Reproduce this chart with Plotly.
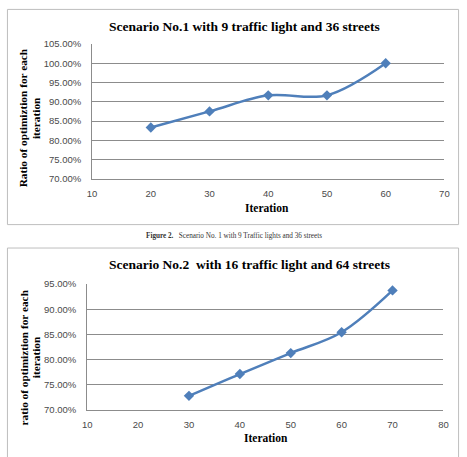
import plotly.graph_objects as go

# Scenario 1 data
iter1 = [20, 30, 40, 50, 60]
ratio1 = [0.8333, 0.875, 0.9167, 0.9167, 1.0]
# Scenario 2 data
iter2 = [30, 40, 50, 60, 70]
ratio2 = [0.7273, 0.7708, 0.8125, 0.8542, 0.9375]

title1 = "Scenario No.1 with 9 traffic light and 36 streets"
title2 = "Scenario No.2  with 16 traffic light and 64 streets"
ytitle1 = ["Ratio of optimiztion for each", "iteration"]
ytitle2 = ["ratio of optimiztion for each", "iteration"]
xtitle = "Iteration"
caption = "<b>Figure 2.</b>   Scenario No. 1 with 9 Traffic lights and 36 streets"

W, H = 467, 457
def px(x): return x / W
def py(y): return 1 - y / H

BLUE = "#4F7FBA"
GRID = "#8C8C8C"
TICK = dict(family="Liberation Sans, Arial", size=9.5, color="#4a4a4a")
SERIF = "Liberation Serif, Times New Roman, serif"

fig = go.Figure()
fig.add_trace(go.Scatter(x=iter1, y=ratio1, mode="lines+markers",
                         line=dict(color=BLUE, width=2.5, shape="spline", smoothing=1),
                         marker=dict(symbol="diamond", size=8, color=BLUE),
                         xaxis="x", yaxis="y", showlegend=False))
fig.add_trace(go.Scatter(x=iter2, y=ratio2, mode="lines+markers",
                         line=dict(color=BLUE, width=2.5, shape="spline", smoothing=1),
                         marker=dict(symbol="diamond", size=8, color=BLUE),
                         xaxis="x2", yaxis="y2", showlegend=False))

common_x = dict(showgrid=False, showline=True, linecolor=GRID, linewidth=1,
                ticks="", tickfont=TICK, zeroline=False, dtick=10, tickmode="linear", tick0=10,
                ticklabelstandoff=6)
common_y = dict(showgrid=True, gridcolor=GRID, gridwidth=1, showline=True, linecolor=GRID,
                linewidth=1, ticks="", tickfont=TICK, zeroline=False, tickformat=".2%",
                dtick=0.05, tickmode="linear", tick0=0.70, ticklabelstandoff=8)

fig.update_layout(
    width=W, height=H, margin=dict(l=0, r=0, t=0, b=0),
    paper_bgcolor="white", plot_bgcolor="white",
    xaxis=dict(common_x, domain=[px(89), px(449)], range=[10, 70], anchor="y"),
    yaxis=dict(common_y, domain=[py(177), py(39)], range=[0.70, 1.05], anchor="x"),
    xaxis2=dict(common_x, domain=[px(84), px(448)], range=[10, 80], anchor="y2"),
    yaxis2=dict(common_y, domain=[py(413.5), py(285)], range=[0.70, 0.95], anchor="x2"),
)

shapes = [
    dict(type="rect", xref="paper", yref="paper", x0=px(2.5), x1=px(463.5), y0=py(224), y1=py(3.5),
         line=dict(color="#BEBEBE", width=1)),
    dict(type="rect", xref="paper", yref="paper", x0=px(2.5), x1=px(463.5), y0=py(470), y1=py(248),
         line=dict(color="#BEBEBE", width=1)),
]
fig.update_layout(shapes=shapes)

ann = []
def txt(x, y, t, size, angle=0, bold=True, family=SERIF, color="black"):
    ann.append(dict(x=px(x), y=py(y), xref="paper", yref="paper", text=(f"<b>{t}</b>" if bold else t),
                    showarrow=False, textangle=angle, xanchor="center", yanchor="middle",
                    font=dict(family=family, size=size, color=color)))

txt(245, 21, title1, 13.5)
txt(250, 265, title2, 13.5)
txt(18.5, 115, ytitle1[0], 11.3, angle=-90)
txt(31.5, 115, ytitle1[1], 11.3, angle=-90)
txt(19.5, 360, ytitle2[0], 11.3, angle=-90)
txt(32.5, 360, ytitle2[1], 11.3, angle=-90)
txt(268, 207, xtitle, 11.5)
txt(267, 443, xtitle, 11.5)
txt(233.5, 236, caption, 7.2, bold=False, color="#333333")
fig.update_layout(annotations=ann)

fig.write_html("out.html")
